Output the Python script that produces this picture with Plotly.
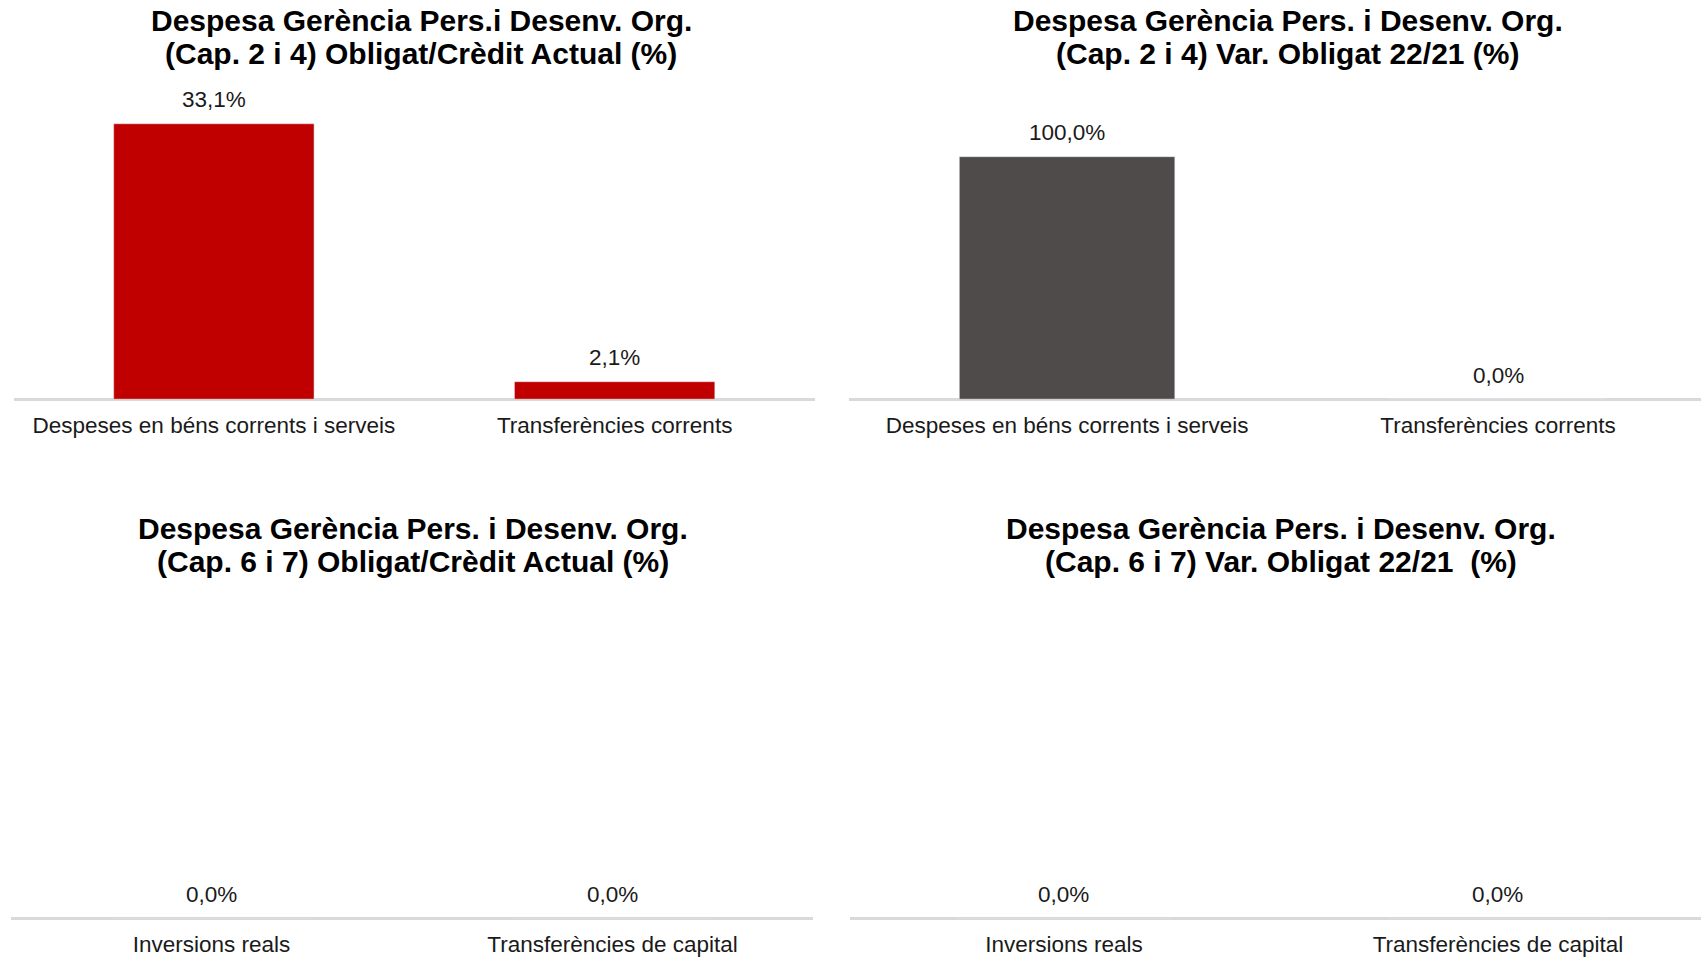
import plotly.graph_objects as go

# ---- data ----
cats_top = ["Despeses en béns corrents i serveis", "Transferències corrents"]
cats_bottom = ["Inversions reals", "Transferències de capital"]

vals_tl = [33.1, 2.1]    # Cap. 2 i 4 Obligat/Crèdit Actual (%)
vals_tr = [100.0, 0.0]   # Cap. 2 i 4 Var. Obligat 22/21 (%)
vals_bl = [0.0, 0.0]     # Cap. 6 i 7 Obligat/Crèdit Actual (%)
vals_br = [0.0, 0.0]     # Cap. 6 i 7 Var. Obligat 22/21 (%)

titles = [
    ("Despesa Gerència Pers.i Desenv. Org.", "(Cap. 2 i 4) Obligat/Crèdit Actual (%)"),
    ("Despesa Gerència Pers. i Desenv. Org.", "(Cap. 2 i 4) Var. Obligat 22/21 (%)"),
    ("Despesa Gerència Pers. i Desenv. Org.", "(Cap. 6 i 7) Obligat/Crèdit Actual (%)"),
    ("Despesa Gerència Pers. i Desenv. Org.", "(Cap. 6 i 7) Var. Obligat 22/21 \u00a0(%)"),
]

RED = "#C00000"
GREY = "#4F4B4B"
FONT = "Liberation Sans, Arial, sans-serif"

W, H = 1701, 957

def px_x(p):
    return p / W

def px_y(p):
    return 1 - p / H

fig = go.Figure()

panels = [
    # cats, vals, color, xdomain(px), ydomain(px top,bottom), xrange, yrange, title center x, title y offset
    (cats_top, vals_tl, RED, (13.5, 815), (80, 400), [-0.5, 1.5], [0, 38.38], 421, 0),
    (cats_top, vals_tr, GREY, (849, 1701), (80, 400), [-0.506, 1.471], [0, 131.7], 1288, 0),
    (cats_bottom, vals_bl, RED, (11, 813), (600, 920.5), [-0.5, 1.5], [0, 100], 413, 509),
    (cats_bottom, vals_br, GREY, (850, 1701), (600, 920.5), [-0.493, 1.468], [0, 100], 1281, 509),
]

annotations = []
for i, (cats, vals, color, xd, yd, xr, yr, tcx, toff) in enumerate(panels):
    n = "" if i == 0 else str(i + 1)
    xa, ya = "x" + n, "y" + n
    fig.add_trace(go.Bar(
        x=cats, y=vals, marker_color=color, width=0.5,
        xaxis=xa, yaxis=ya, showlegend=False, hoverinfo="skip",
    ))
    fig.layout["xaxis" + n] = dict(
        domain=[px_x(xd[0]), px_x(xd[1])], range=xr, anchor=ya,
        showline=False, showgrid=False, zeroline=False, ticks="",
        tickfont=dict(family=FONT, size=22.5, color="#1a1a1a"),
        ticklabelstandoff=10, fixedrange=True,
    )
    fig.layout["yaxis" + n] = dict(
        domain=[px_y(yd[1]), px_y(yd[0])], range=yr, anchor=xa,
        showticklabels=False, showgrid=False, showline=False, ticks="",
        zeroline=True, zerolinecolor="#D9D9D9", zerolinewidth=2.5,
        fixedrange=True,
    )
    for c, v in zip(cats, vals):
        annotations.append(dict(
            x=c, y=v, xref=xa, yref=ya, text=f"{v:.1f}".replace(".", ",") + "%",
            showarrow=False, yanchor="middle", yshift=24,
            font=dict(family=FONT, size=22.5, color="#1a1a1a"),
        ))
    l1, l2 = titles[i]
    for line, cy in ((l1, 21), (l2, 54)):
        annotations.append(dict(
            x=px_x(tcx), y=px_y(cy + toff), xref="paper", yref="paper",
            text=f"<b>{line}</b>", showarrow=False, xanchor="center", yanchor="middle",
            font=dict(family=FONT, size=30, color="#000000"),
        ))

fig.update_layout(
    width=W, height=H,
    margin=dict(l=0, r=0, t=0, b=0),
    paper_bgcolor="white", plot_bgcolor="white",
    annotations=annotations,
    bargap=0.5,
)

fig.write_html(
    "out.html",
    config={"displayModeBar": False},
    post_script="document.body.style.margin='0';document.body.style.overflow='hidden';",
)
